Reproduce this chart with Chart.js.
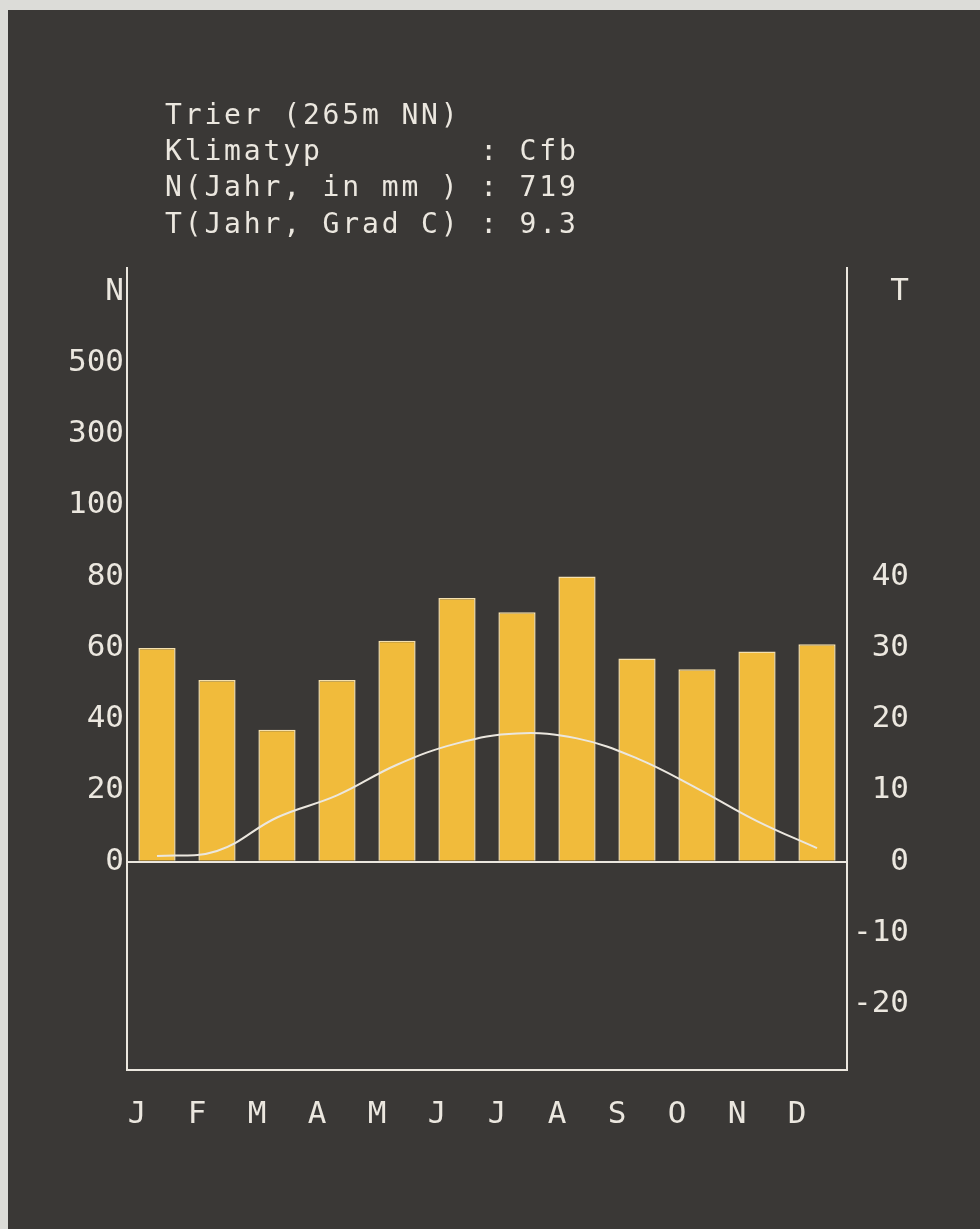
<!DOCTYPE html>
<html>
<head>
<meta charset="utf-8">
<script src="https://cdn.jsdelivr.net/npm/chart.js@4"></script>
<style>
  html, body { margin: 0; padding: 0; background: #dcdcd8; }
  #paper { position: absolute; left: 8px; top: 10px; right: 0; bottom: 0; background: #3a3836; }
  #klima { position: absolute; left: 0; top: 0; }
</style>
</head>
<body>
<div id="paper"></div>
<canvas id="klima" width="980" height="1229"></canvas>
<script>
// Trier, monthly precipitation (mm) and temperature (deg C)
let months = ["J", "F", "M", "A", "M", "J", "J", "A", "S", "O", "N", "D"];
let niederschlag = [60, 51, 37, 51, 62, 74, 70, 80, 57, 54, 59, 61];
let temperatur = [0.8, 1.5, 6.2, 9.3, 13.6, 16.6, 18.0, 17.3, 14.5, 10.3, 5.7, 1.9];

// header block above the diagram
let headerLines = [
    "Trier (265m NN)",
    "Klimatyp        : Cfb",
    "N(Jahr, in mm ) : 719",
    "T(Jahr, Grad C) : 9.3",
];

// left axis: 0..100 linear, above 100 every step is 200 mm
let nTicks = { 0: "0", 20: "20", 40: "40", 60: "60", 80: "80", 100: "100", 120: "300", 140: "500", 160: "N" };
let tTicks = { "-20": "-20", "-10": "-10", 0: "0", 10: "10", 20: "20", 30: "30", 40: "40", 80: "T" };

const ink = '#ebe7df';
const plotFont = { family: "'DejaVu Sans Mono', monospace", size: 31 };

const headerPlugin = {
    id: 'header',
    afterDraw(chart) {
        const ctx = chart.ctx;
        ctx.save();
        ctx.fillStyle = ink;
        ctx.font = "28px 'DejaVu Sans Mono', monospace";
        ctx.textBaseline = 'alphabetic';
        headerLines.forEach((line, i) => {
            // fixed pitch like the plotter
            for (let c = 0; c < line.length; c++) {
                ctx.fillText(line[c], 165 + c * 19.7, 124 + i * 36.2);
            }
        });
        ctx.restore();
    }
};

new Chart(document.getElementById('klima'), {
    data: {
        labels: months,
        datasets: [
            {
                type: 'line',
                label: 'T',
                data: temperatur,
                yAxisID: 'y1',
                borderColor: ink,
                borderWidth: 2,
                pointRadius: 0,
                tension: 0.4,
                fill: false,
                order: 0,
            },
            {
                type: 'bar',
                label: 'N',
                data: niederschlag,
                yAxisID: 'y',
                backgroundColor: '#f1bb3b',
                borderColor: '#f5e0ad',
                borderWidth: 1.5,
                barPercentage: 0.62,
                categoryPercentage: 1.0,
                order: 1,
            },
        ]
    },
    options: {
        responsive: false,
        devicePixelRatio: 1,
        animation: false,
        layout: { padding: { top: 268, left: 65, right: 71, bottom: 68 } },
        plugins: {
            legend: { display: false },
            tooltip: { enabled: false },
        },
        scales: {
            x: {
                grid: { display: false, drawTicks: false },
                border: { display: true, color: ink, width: 2 },
                ticks: {
                    color: ink,
                    font: plotFont,
                    padding: 27,
                    labelOffset: -20,
                    maxRotation: 0,
                    autoSkip: false,
                },
            },
            y: {
                position: 'left',
                min: -58.4,
                max: 166.6,
                grid: {
                    drawTicks: false,
                    color: (c) => (c.tick && c.tick.value === 0) ? ink : 'transparent',
                    lineWidth: 2,
                },
                border: { display: true, color: ink, width: 2 },
                ticks: {
                    stepSize: 20,
                    includeBounds: false,
                    color: ink,
                    font: plotFont,
                    padding: 3,
                    callback: (v) => nTicks[v] ?? '',
                },
            },
            y1: {
                position: 'right',
                min: -29.2,
                max: 83.3,
                grid: { display: false, drawTicks: false },
                border: { display: true, color: ink, width: 2 },
                ticks: {
                    stepSize: 10,
                    includeBounds: false,
                    color: ink,
                    font: plotFont,
                    padding: 3,
                    crossAlign: 'far',
                    callback: (v) => tTicks[v] ?? '',
                },
            },
        },
    },
    plugins: [headerPlugin],
});
</script>
</body>
</html>
